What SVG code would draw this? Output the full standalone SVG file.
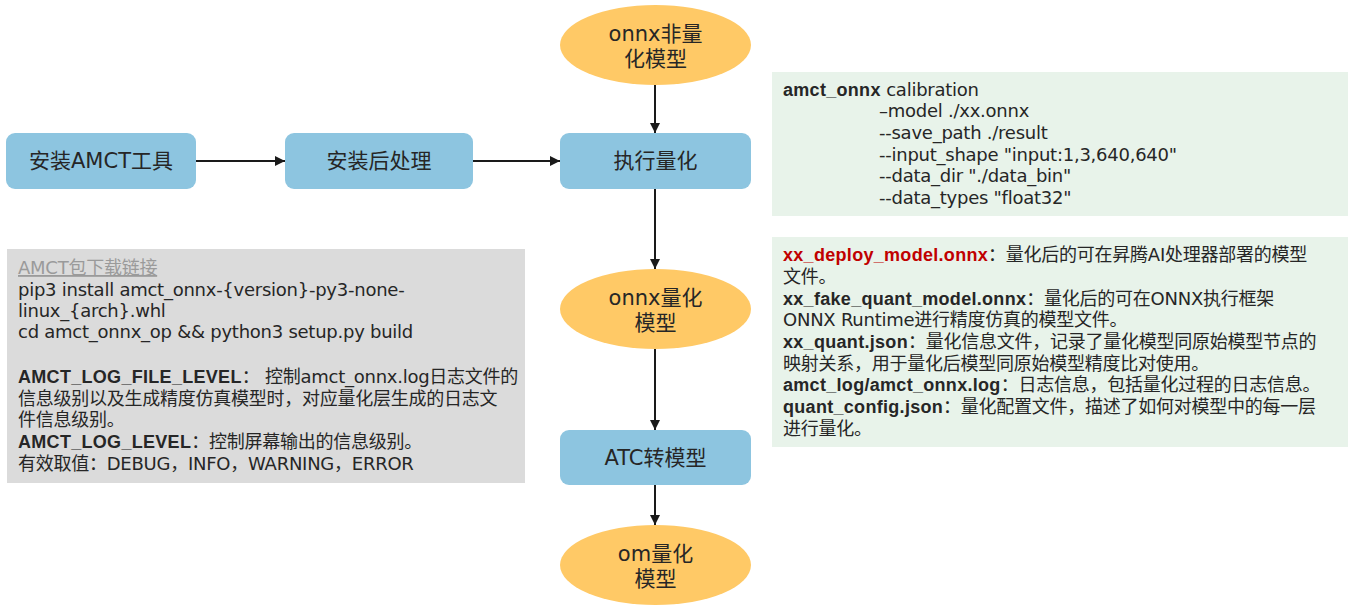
<svg xmlns="http://www.w3.org/2000/svg" width="1360" height="610" viewBox="0 0 1360 610">
<style>
text{font-family:"DejaVu Sans","Noto Sans CJK SC",sans-serif;fill:#262626}
.node{fill:#8dc5e0}
.oval{fill:#ffc966}
.nt{font-size:21px;text-anchor:middle}
.pt{font-size:18px;letter-spacing:-0.25px}
.b{font-family:"Liberation Sans","Noto Sans CJK SC",sans-serif;font-weight:bold;letter-spacing:0.3px}
.red{fill:#c00000}
.conn{stroke:#1a1a1a;stroke-width:2;fill:none;marker-end:url(#ah)}
</style>
<defs>
<marker id="ah" viewBox="0 0 10 10" refX="10" refY="5" markerWidth="5.5" markerHeight="5" markerUnits="strokeWidth" orient="auto">
<path d="M0,0 L10,5 L0,10 z" fill="#1a1a1a"/>
</marker>
</defs>
<rect width="1360" height="610" fill="#ffffff"/>

<g id="connectors">
<line class="conn" x1="196" y1="161" x2="285" y2="161"/>
<line class="conn" x1="473" y1="161" x2="560" y2="161"/>
<line class="conn" x1="655" y1="85" x2="655" y2="133"/>
<line class="conn" x1="655" y1="189" x2="655" y2="269"/>
<line class="conn" x1="655" y1="349" x2="655" y2="430"/>
<line class="conn" x1="655" y1="485" x2="655" y2="525"/>
</g>

<g id="n_install">
<rect class="node" x="6" y="133" width="190" height="56" rx="9"/>
<text class="nt" x="101" y="168">安装AMCT工具</text>
</g>
<g id="n_post">
<rect class="node" x="285" y="133" width="188" height="56" rx="9"/>
<text class="nt" x="379" y="168">安装后处理</text>
</g>
<g id="n_onnx_src">
<ellipse class="oval" cx="655.5" cy="45" rx="95.5" ry="40"/>
<text class="nt" x="655.5" y="41">onnx非量</text>
<text class="nt" x="655.5" y="66">化模型</text>
</g>
<g id="n_quant">
<rect class="node" x="560" y="133" width="191" height="56" rx="9"/>
<text class="nt" x="655.5" y="168">执行量化</text>
</g>
<g id="n_onnx_q">
<ellipse class="oval" cx="655.5" cy="309" rx="95.5" ry="40"/>
<text class="nt" x="655.5" y="305">onnx量化</text>
<text class="nt" x="655.5" y="330">模型</text>
</g>
<g id="n_atc">
<rect class="node" x="560" y="430" width="191" height="55" rx="9"/>
<text class="nt" x="655.5" y="465">ATC转模型</text>
</g>
<g id="n_om">
<ellipse class="oval" cx="655.5" cy="565" rx="95.5" ry="40"/>
<text class="nt" x="655.5" y="561">om量化</text>
<text class="nt" x="655.5" y="586">模型</text>
</g>

<g id="panel_install">
<rect x="7" y="249" width="518" height="234" fill="#dbdbdb"/>
<text class="pt" x="18" y="274" style="fill:#9a9a9a;text-decoration:underline">AMCT包下载链接</text>
<text class="pt" x="18" y="296">pip3 install amct_onnx-{version}-py3-none-</text>
<text class="pt" x="18" y="317">linux_{arch}.whl</text>
<text class="pt" x="18" y="338">cd amct_onnx_op &amp;&amp; python3 setup.py build</text>
<text class="pt" x="18" y="383"><tspan class="b">AMCT_LOG_FILE_LEVEL</tspan>： 控制amct_onnx.log日志文件的</text>
<text class="pt" x="18" y="405">信息级别以及生成精度仿真模型时，对应量化层生成的日志文</text>
<text class="pt" x="18" y="426">件信息级别。</text>
<text class="pt" x="18" y="448"><tspan class="b">AMCT_LOG_LEVEL</tspan>：控制屏幕输出的信息级别。</text>
<text class="pt" x="18" y="470">有效取值：DEBUG，INFO，WARNING，ERROR</text>
</g>

<g id="panel_cmd">
<rect x="772" y="72" width="576" height="144" fill="#e8f3ea"/>
<text class="pt" x="783" y="96"><tspan class="b">amct_onnx</tspan> calibration</text>
<text class="pt" x="879" y="117">–model ./xx.onnx</text>
<text class="pt" x="879" y="139">--save_path ./result</text>
<text class="pt" x="879" y="161">--input_shape "input:1,3,640,640"</text>
<text class="pt" x="879" y="182">--data_dir "./data_bin"</text>
<text class="pt" x="879" y="204">--data_types "float32"</text>
</g>

<g id="panel_out">
<rect x="772" y="237" width="576" height="210" fill="#e8f3ea"/>
<text class="pt" x="783" y="261"><tspan class="b red">xx_deploy_model.onnx</tspan>：量化后的可在昇腾AI处理器部署的模型</text>
<text class="pt" x="783" y="283">文件。</text>
<text class="pt" x="783" y="305"><tspan class="b">xx_fake_quant_model.onnx</tspan>：量化后的可在ONNX执行框架</text>
<text class="pt" x="783" y="326">ONNX Runtime进行精度仿真的模型文件。</text>
<text class="pt" x="783" y="348"><tspan class="b">xx_quant.json</tspan>：量化信息文件，记录了量化模型同原始模型节点的</text>
<text class="pt" x="783" y="370">映射关系，用于量化后模型同原始模型精度比对使用。</text>
<text class="pt" x="783" y="391"><tspan class="b">amct_log/amct_onnx.log</tspan>：日志信息，包括量化过程的日志信息。</text>
<text class="pt" x="783" y="413"><tspan class="b">quant_config.json</tspan>：量化配置文件，描述了如何对模型中的每一层</text>
<text class="pt" x="783" y="435">进行量化。</text>
</g>
</svg>
